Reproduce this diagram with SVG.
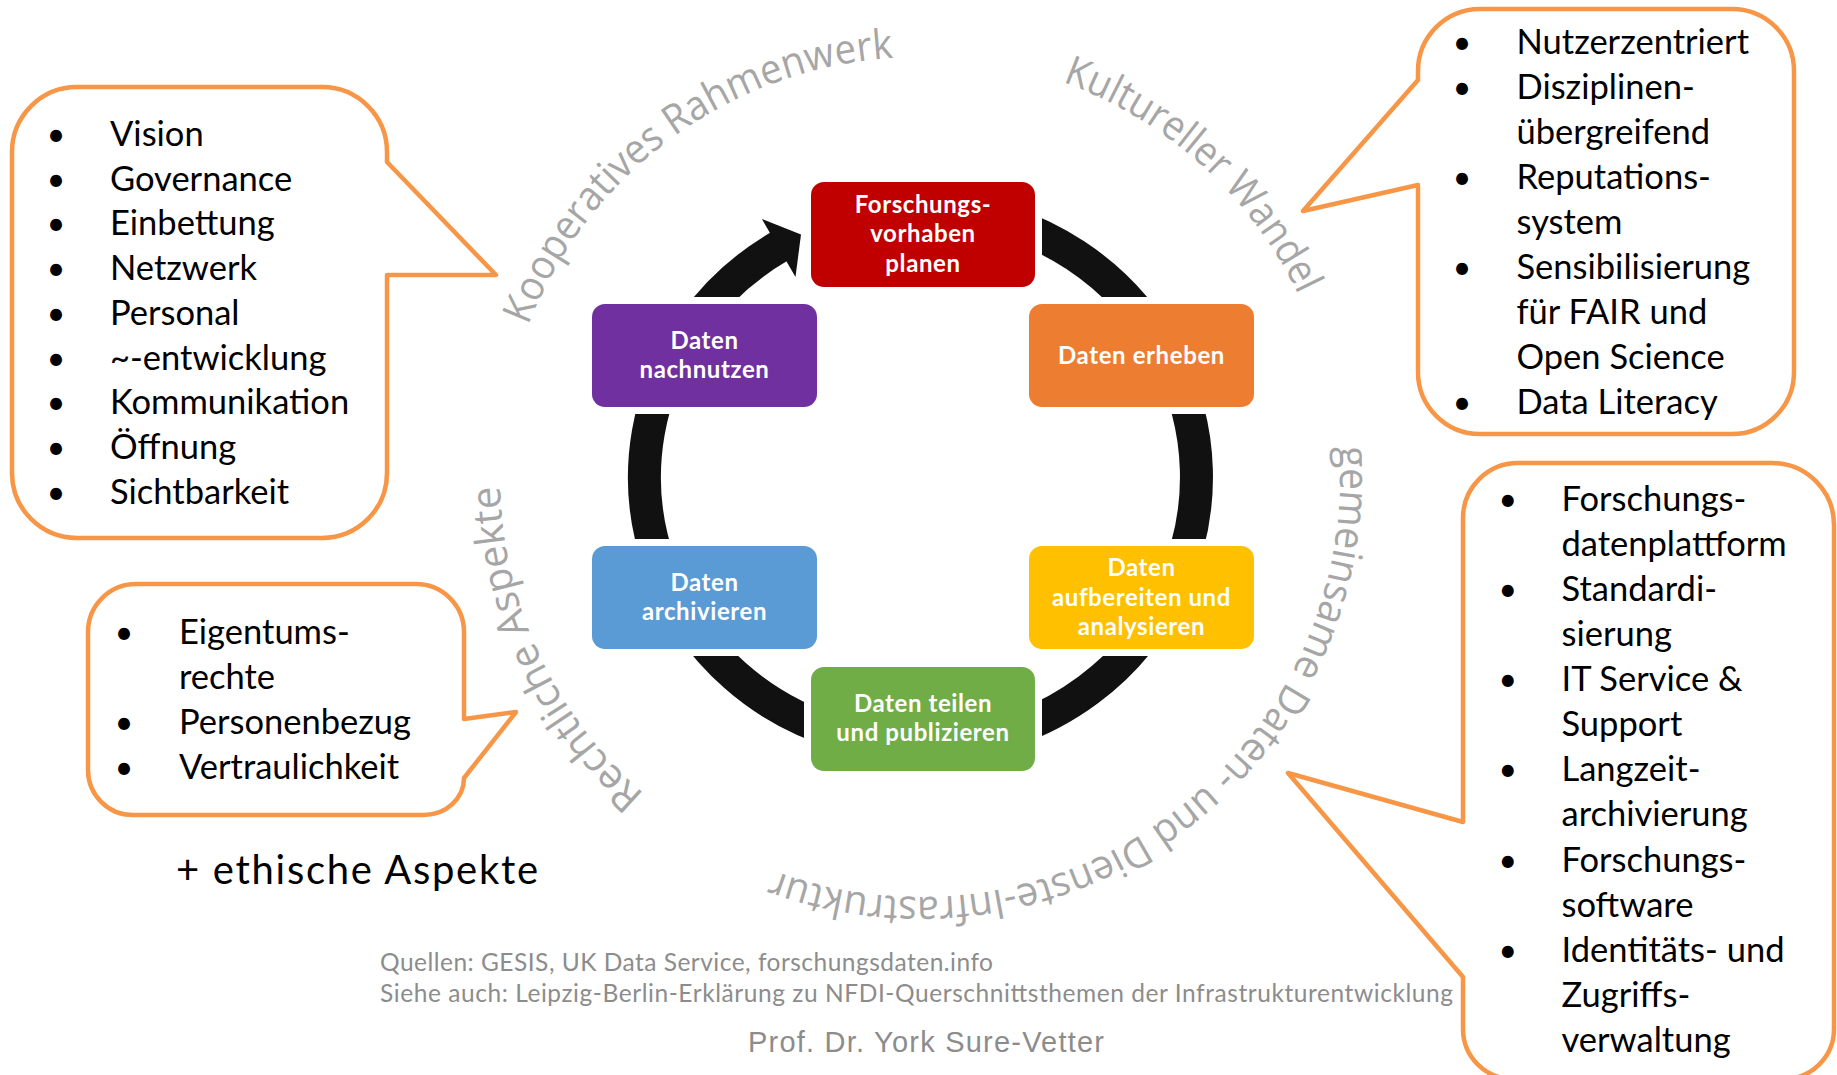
<svg xmlns="http://www.w3.org/2000/svg" xmlns:xlink="http://www.w3.org/1999/xlink" width="1837" height="1075" viewBox="0 0 1837 1075">
<style>
.co path{fill:#fff;stroke:#F79646;stroke-width:4.5;stroke-linejoin:round}
.co text{font-family:Lato,"Liberation Sans",sans-serif;font-size:34.5px;fill:#000}
.co .b{text-anchor:middle;font-size:32px}
.nd rect.h{fill:#fff;stroke:#fff;stroke-width:14}
.nd text{font-family:Lato,"Liberation Sans",sans-serif;font-weight:bold;font-size:24px;letter-spacing:0.6px;fill:#fff;text-anchor:middle}
.arc{font-family:"Open Sans","DejaVu Sans",sans-serif;font-size:41px;fill:#A6A6A6}
.ft{font-family:Lato,"Liberation Sans",sans-serif;font-size:24.5px;fill:#8C8C8C}
</style>
<defs>
<path id="circ" d="M 500 477 A 420 420 0 1 1 1340 477 A 420 420 0 1 1 500 477"/>
</defs>
<rect width="1837" height="1075" fill="#fff"/>

<g id="connectors">
<path d="M 826.1 225.2 A 276 268 0 1 1 694.4 323.3" fill="none" stroke="#111" stroke-width="33"/>
<path d="M 694.4 323.3 A 276 268 0 0 1 779.2 246.6" fill="none" stroke="#111" stroke-width="33"/>
<polygon points="761.9,219 801,234.5 795.5,277" fill="#111"/>
</g>

<g id="node-planen" class="nd">
<rect class="h" x="811" y="182" width="224" height="105" rx="13"/>
<rect x="811" y="182" width="224" height="105" rx="13" fill="#C00000"/>
<text x="923" y="212.5">Forschungs-<tspan x="923" dy="29.5">vorhaben</tspan><tspan x="923" dy="29.5">planen</tspan></text>
</g>
<g id="node-erheben" class="nd">
<rect class="h" x="1029" y="304" width="225" height="103" rx="13"/>
<rect x="1029" y="304" width="225" height="103" rx="13" fill="#ED7D31"/>
<text x="1141.5" y="363.5">Daten erheben</text>
</g>
<g id="node-aufbereiten" class="nd">
<rect class="h" x="1029" y="546" width="225" height="103" rx="13"/>
<rect x="1029" y="546" width="225" height="103" rx="13" fill="#FFC000"/>
<text x="1141.5" y="576">Daten<tspan x="1141.5" dy="29.5">aufbereiten und</tspan><tspan x="1141.5" dy="29.5">analysieren</tspan></text>
</g>
<g id="node-teilen" class="nd">
<rect class="h" x="811" y="667" width="224" height="104" rx="13"/>
<rect x="811" y="667" width="224" height="104" rx="13" fill="#70AD47"/>
<text x="923" y="711.5">Daten teilen<tspan x="923" dy="29.5">und publizieren</tspan></text>
</g>
<g id="node-archivieren" class="nd">
<rect class="h" x="592" y="546" width="225" height="103" rx="13"/>
<rect x="592" y="546" width="225" height="103" rx="13" fill="#5B9BD5"/>
<text x="704.5" y="590.5">Daten<tspan x="704.5" dy="29.5">archivieren</tspan></text>
</g>
<g id="node-nachnutzen" class="nd">
<rect class="h" x="592" y="304" width="225" height="103" rx="13"/>
<rect x="592" y="304" width="225" height="103" rx="13" fill="#7030A0"/>
<text x="704.5" y="348.5">Daten<tspan x="704.5" dy="29.5">nachnutzen</tspan></text>
</g>

<g id="arc-labels">
<text class="arc"><textPath xlink:href="#circ" href="#circ" startOffset="155" textLength="232.2" lengthAdjust="spacingAndGlyphs">Kooperatives</textPath></text>
<text class="arc"><textPath xlink:href="#circ" href="#circ" startOffset="397.1" textLength="235.9" lengthAdjust="spacingAndGlyphs">Rahmenwerk</textPath></text>
<text class="arc"><textPath xlink:href="#circ" href="#circ" startOffset="805" textLength="326" lengthAdjust="spacingAndGlyphs">Kultureller Wandel</textPath></text>
<text class="arc"><textPath xlink:href="#circ" href="#circ" startOffset="1289" textLength="233.1" lengthAdjust="spacingAndGlyphs">gemeinsame</textPath></text>
<text class="arc"><textPath xlink:href="#circ" href="#circ" startOffset="1532.3" textLength="121.5" lengthAdjust="spacingAndGlyphs">Daten-</textPath></text>
<text class="arc"><textPath xlink:href="#circ" href="#circ" startOffset="1663.9" textLength="71.7" lengthAdjust="spacingAndGlyphs">und</textPath></text>
<text class="arc"><textPath xlink:href="#circ" href="#circ" startOffset="1745.7" textLength="382.4" lengthAdjust="spacingAndGlyphs">Dienste-Infrastruktur</textPath></text>
<text class="arc"><textPath xlink:href="#circ" href="#circ" startOffset="2279" textLength="350" lengthAdjust="spacingAndGlyphs">Rechtliche Aspekte</textPath></text>
</g>

<g id="callout-rahmenwerk" class="co">
<path d="M 77 87 H 322 A 65 65 0 0 1 387 152 V 162 L 496 275 L 387 275 V 473 A 65 65 0 0 1 322 538 H 77 A 65 65 0 0 1 12 473 V 152 A 65 65 0 0 1 77 87 Z"/>
<text class="b" x="56" y="146">•</text><text x="110" y="146">Vision</text>
<text class="b" x="56" y="190.7">•</text><text x="110" y="190.7">Governance</text>
<text class="b" x="56" y="235.4">•</text><text x="110" y="235.4">Einbettung</text>
<text class="b" x="56" y="280.1">•</text><text x="110" y="280.1">Netzwerk</text>
<text class="b" x="56" y="324.8">•</text><text x="110" y="324.8">Personal</text>
<text class="b" x="56" y="369.5">•</text><text x="110" y="369.5">~-entwicklung</text>
<text class="b" x="56" y="414.2">•</text><text x="110" y="414.2">Kommunikation</text>
<text class="b" x="56" y="458.9">•</text><text x="110" y="458.9">Öffnung</text>
<text class="b" x="56" y="503.6">•</text><text x="110" y="503.6">Sichtbarkeit</text>
</g>

<g id="callout-wandel" class="co">
<path d="M 1480 9 H 1732 A 62 62 0 0 1 1794 71 V 372 A 62 62 0 0 1 1732 434 H 1480 A 62 62 0 0 1 1418 372 V 185 L 1303 211 L 1418 80 V 71 A 62 62 0 0 1 1480 9 Z"/>
<text class="b" x="1462" y="53.5">•</text><text x="1516.5" y="53.5">Nutzerzentriert</text>
<text class="b" x="1462" y="98.5">•</text><text x="1516.5" y="98.5">Disziplinen-</text>
<text x="1516.5" y="143.5">übergreifend</text>
<text class="b" x="1462" y="188.5">•</text><text x="1516.5" y="188.5">Reputations-</text>
<text x="1516.5" y="233.5">system</text>
<text class="b" x="1462" y="278.5">•</text><text x="1516.5" y="278.5">Sensibilisierung</text>
<text x="1516.5" y="323.5">für FAIR und</text>
<text x="1516.5" y="368.5">Open Science</text>
<text class="b" x="1462" y="413.5">•</text><text x="1516.5" y="413.5">Data Literacy</text>
</g>

<g id="callout-recht" class="co">
<path d="M 136 584 H 416 A 48 48 0 0 1 464 632 V 719 L 516 712 L 464 778 A 40 37 0 0 1 424 815 H 133 A 45 45 0 0 1 88 770 V 632 A 48 48 0 0 1 136 584 Z"/>
<text class="b" x="124" y="643.7">•</text><text x="179" y="643.7">Eigentums-</text>
<text x="179" y="688.9">rechte</text>
<text class="b" x="124" y="734.1">•</text><text x="179" y="734.1">Personenbezug</text>
<text class="b" x="124" y="779.3">•</text><text x="179" y="779.3">Vertraulichkeit</text>
</g>

<g id="callout-infrastruktur" class="co">
<path d="M 1518 463 H 1772 A 62 62 0 0 1 1834 525 V 1029 A 50 50 0 0 1 1784 1079 H 1513 A 50 50 0 0 1 1463 1029 V 977 L 1288 773 L 1463 822 V 518 A 55 55 0 0 1 1518 463 Z"/>
<text class="b" x="1507.7" y="510.7">•</text><text x="1561.5" y="510.7">Forschungs-</text>
<text x="1561.5" y="555.8">datenplattform</text>
<text class="b" x="1507.7" y="600.9">•</text><text x="1561.5" y="600.9">Standardi-</text>
<text x="1561.5" y="646">sierung</text>
<text class="b" x="1507.7" y="691.1">•</text><text x="1561.5" y="691.1">IT Service &amp;</text>
<text x="1561.5" y="736.2">Support</text>
<text class="b" x="1507.7" y="781.3">•</text><text x="1561.5" y="781.3">Langzeit-</text>
<text x="1561.5" y="826.4">archivierung</text>
<text class="b" x="1507.7" y="871.5">•</text><text x="1561.5" y="871.5">Forschungs-</text>
<text x="1561.5" y="916.6">software</text>
<text class="b" x="1507.7" y="961.7">•</text><text x="1561.5" y="961.7">Identitäts- und</text>
<text x="1561.5" y="1006.8">Zugriffs-</text>
<text x="1561.5" y="1051.9">verwaltung</text>
</g>

<g id="notes">
<text x="176" y="884" font-family="Lato, 'Liberation Sans', sans-serif" font-size="40" fill="#000" textLength="362">+ ethische Aspekte</text>
<text class="ft" x="380" y="970.5" textLength="613">Quellen: GESIS, UK Data Service, forschungsdaten.info</text>
<text class="ft" x="380" y="1002" textLength="1073">Siehe auch: Leipzig-Berlin-Erklärung zu NFDI-Querschnittsthemen der Infrastrukturentwicklung</text>
<text x="748" y="1052" font-family="'Liberation Sans', Arial, sans-serif" font-size="29" fill="#8C8C8C" textLength="356">Prof. Dr. York Sure-Vetter</text>
</g>
</svg>
